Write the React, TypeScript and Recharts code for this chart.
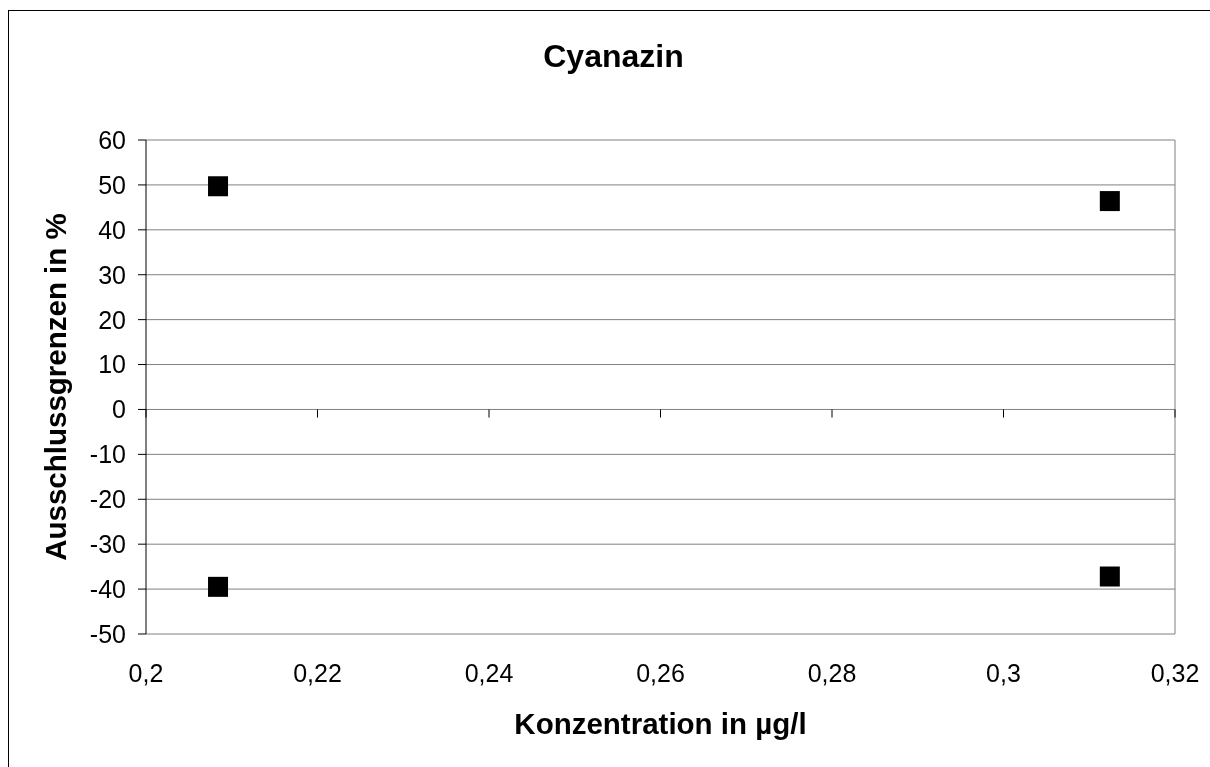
import * as React from 'react'
import {
  ScatterChart,
  Scatter,
  XAxis,
  YAxis,
  CartesianGrid,
  ReferenceLine,
  Label
} from 'recharts'

const title = 'Cyanazin'
const xTitle = 'Konzentration in µg/l'
const yTitle = 'Ausschlussgrenzen in %'

// Konzentration (µg/l)
const conc = [0.2084, 0.3124]
// obere / untere Ausschlussgrenze (%)
const upper = [49.7, 46.4]
const lower = [-39.5, -37.2]

const xTicks = [0.2, 0.22, 0.24, 0.26, 0.28, 0.3, 0.32]
const yTicks = [-50, -40, -30, -20, -10, 0, 10, 20, 30, 40, 50, 60]

const upperData = conc.map((x, i) => ({ x, y: upper[i] }))
const lowerData = conc.map((x, i) => ({ x, y: lower[i] }))

const font = '"Liberation Sans", Arial, sans-serif'

const fmt = (v: number) => String(v).replace('.', ',')

function Square(props: any) {
  const { cx, cy } = props
  if (cx == null || cy == null) return null
  return <rect x={cx - 10} y={cy - 10} width={20} height={20} fill='#000' />
}

export default function App() {
  // frame runs off the page on the right and bottom, like the original
  return (
    <div
      style={{
        position: 'fixed',
        left: 8,
        top: 10,
        borderTop: '1px solid #000',
        borderLeft: '1px solid #000',
        width: 1210,
        height: 770,
        overflow: 'hidden',
        fontFamily: font
      }}
    >
      <ScatterChart
        width={1240}
        height={790}
        margin={{ top: 129, right: 74, left: 0, bottom: 0 }}
        accessibilityLayer={false}
        style={{ fontFamily: font, outline: 'none' }}
      >
        <CartesianGrid
          stroke='#808080'
          strokeWidth={1}
          vertical
          verticalCoordinatesGenerator={({ offset }: any) => [offset.left + offset.width]}
        />
        <XAxis
          type='number'
          dataKey='x'
          domain={[0.2, 0.32]}
          ticks={xTicks}
          tickFormatter={fmt}
          axisLine={false}
          tickLine={false}
          tickSize={0}
          tickMargin={30}
          height={167}
          tick={{ fill: '#000', fontSize: 25, fontFamily: font }}
          allowDataOverflow
        >
          <Label
            content={({ viewBox }: any) => (
              <g>
                <text
                  x={viewBox.x + viewBox.width / 2}
                  y={viewBox.y + 100}
                  textAnchor='middle'
                  fontSize={29.5}
                  fontWeight='bold'
                  fontFamily={font}
                  fill='#000'
                >
                  {xTitle}
                </text>
                <text
                  x={604.5}
                  y={56}
                  textAnchor='middle'
                  fontSize={32}
                  fontWeight='bold'
                  fontFamily={font}
                  fill='#000'
                >
                  {title}
                </text>
              </g>
            )}
          />
        </XAxis>
        <YAxis
          type='number'
          dataKey='y'
          domain={[-50, 60]}
          ticks={yTicks}
          width={137}
          axisLine={{ stroke: '#000', strokeWidth: 1 }}
          tickLine={{ stroke: '#000' }}
          tickSize={8}
          tickMargin={12}
          tick={{ fill: '#000', fontSize: 25, fontFamily: font }}
          allowDataOverflow
        >
          <Label
            content={({ viewBox }: any) => {
              const cx = 57
              const cy = viewBox.y + viewBox.height / 2
              return (
                <text
                  x={cx}
                  y={cy}
                  transform={`rotate(-90, ${cx}, ${cy})`}
                  textAnchor='middle'
                  fontSize={29.5}
                  fontWeight='bold'
                  fontFamily={font}
                  fill='#000'
                >
                  {yTitle}
                </text>
              )
            }}
          />
        </YAxis>
        {xTicks.map((t) => (
          <ReferenceLine
            key={t}
            segment={[
              { x: t, y: 0 },
              { x: t, y: -1.8 }
            ]}
            stroke='#000'
            strokeWidth={1}
          />
        ))}
        <Scatter data={upperData} shape={Square} isAnimationActive={false} />
        <Scatter data={lowerData} shape={Square} isAnimationActive={false} />
      </ScatterChart>
    </div>
  )
}
